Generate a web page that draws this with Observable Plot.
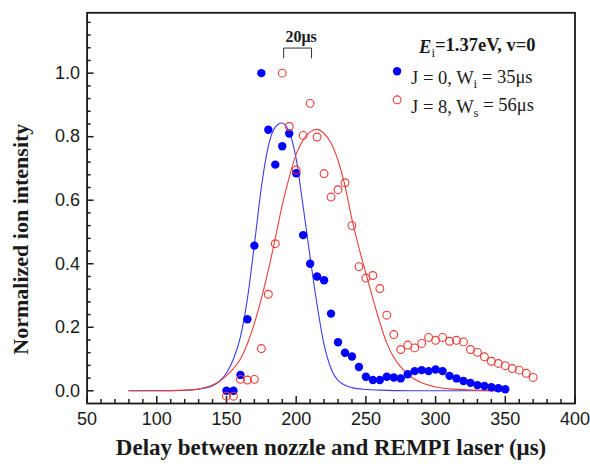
<!DOCTYPE html>
<html>
<head>
<meta charset="utf-8">
<script src="https://cdn.jsdelivr.net/npm/d3@7"></script>
<script src="https://cdn.jsdelivr.net/npm/@observablehq/plot@0.6"></script>
<style>
  html, body { margin: 0; padding: 0; background: #fff; }
</style>
</head>
<body>
<div id="chart"></div>
<script>
// ---- data ----
const j0Delay = [150,155,160,165,170,175,180,185,190,195,200,205,210,215,220,225,230,235,240,245,250,255,260,265,270,275,280,285,290,295,300,305,310,315,320,325,330,335,340,345,350];
const j0Intensity = [0.0,0.0,0.05,0.225,0.457,1.0,0.822,0.712,0.77,0.81,0.685,0.49,0.40,0.36,0.348,0.243,0.153,0.12,0.108,0.075,0.044,0.034,0.034,0.044,0.042,0.039,0.052,0.062,0.065,0.062,0.067,0.062,0.047,0.039,0.031,0.025,0.018,0.015,0.011,0.008,0.005];

const j8Delay = [150,155,160,165,170,175,180,185,190,195,200,205,210,215,220,225,230,235,240,245,250,255,260,265,270,275,280,285,290,295,300,305,310,315,320,325,330,335,340,345,350,355,360,365,370];
const j8Intensity = [-0.017,-0.017,0.036,0.034,0.036,0.133,0.304,0.463,1.0,0.832,0.695,0.804,0.905,0.799,0.684,0.61,0.633,0.655,0.52,0.391,0.355,0.363,0.322,0.238,0.177,0.13,0.144,0.135,0.149,0.168,0.159,0.168,0.156,0.159,0.154,0.13,0.121,0.107,0.093,0.086,0.079,0.07,0.065,0.055,0.042];

const j0FitDelay = [80,100,120,130,140,145,150,155,160,165,170,175,180,185,189.5,195,200,205,210,215,220,225,230,240,250,260,280,350];
const j0FitIntensity = [0,0,0.001,0.005,0.016,0.03,0.056,0.1,0.17,0.29,0.46,0.64,0.77,0.83,0.843,0.815,0.73,0.58,0.42,0.27,0.145,0.07,0.033,0.01,0.004,0.002,0,0];

const j8FitDelay = [80,100,120,130,140,145,150,155,160,165,170,175,180,185,190,195,200,205,210,214.6,220,225,230,235,240,245,250,255,260,265,270,275,280,290,300,310,330,350];
const j8FitIntensity = [0,0,0.002,0.006,0.018,0.03,0.048,0.07,0.1,0.148,0.212,0.29,0.38,0.48,0.585,0.672,0.745,0.79,0.815,0.823,0.81,0.78,0.725,0.645,0.54,0.45,0.37,0.29,0.215,0.15,0.105,0.075,0.052,0.025,0.012,0.006,0.002,0];

const xTicks = [50,100,150,200,250,300,350,400];
const xMinorTicks = [60,70,80,90,110,120,130,140,160,170,180,190,210,220,230,240,260,270,280,290,310,320,330,340,360,370,380,390];
const yTicks = [0,0.2,0.4,0.6,0.8,1.0];
const yMinorTicks = [0.04,0.08,0.12,0.16,0.24,0.28,0.32,0.36,0.44,0.48,0.52,0.56,0.64,0.68,0.72,0.76,0.84,0.88,0.92,0.96,1.04,1.08,1.12,1.16];

const scaleBarDelay = [191,191,211,211];
const scaleBarLevel = [1.048,1.079,1.079,1.048];
const scaleBarLabel = ["20μs"];
const scaleBarLabelDelay = [203.5];
const scaleBarLabelLevel = [1.115];

const legendTitle = ["E_i=1.37eV, v=0"];
const legendLabels = ["J = 0, W_i = 35μs", "J = 8, W_s = 56μs"];
const xLabel = "Delay between nozzle and REMPI laser (μs)";
const yLabel = "Normalized ion intensity";

// ---- layout ----
const W = 590, H = 473, ML = 86.6, MR = 15.5, MT = 12.3, MB = 70;
const FW = W - ML - MR, FH = H - MT - MB;
const ink = "#1a1a1a";
const blue = "#0000ff", blueLine = "#3c3ce8";
const red = "#ec3a34", redLine = "#e4403c";
const serif = "'Liberation Serif', 'Times New Roman', serif";

const j0 = j0Delay.map((d, i) => ({d, v: j0Intensity[i]}));
const j8 = j8Delay.map((d, i) => ({d, v: j8Intensity[i]}));
const j0Fit = j0FitDelay.map((d, i) => ({d, v: j0FitIntensity[i]}));
const j8Fit = j8FitDelay.map((d, i) => ({d, v: j8FitIntensity[i]}));
const bar = scaleBarDelay.map((d, i) => ({d, v: scaleBarLevel[i]}));

const legX = 310, legFont = 18.5;

const chart = Plot.plot({
  width: W, height: H,
  marginLeft: ML, marginRight: MR, marginTop: MT, marginBottom: MB,
  style: {fontFamily: "'Liberation Sans', Arial, sans-serif", fontSize: "18px", color: ink, background: "#fff", overflow: "visible"},
  x: {domain: [50, 400]},
  y: {domain: [-0.04, 1.19]},
  marks: [
    Plot.axisX({ticks: xTicks, tickSize: 0, tickPadding: 9, label: null, tickFormat: d => String(d)}),
    Plot.axisY({ticks: yTicks, tickSize: 0, tickPadding: 7, label: null, tickFormat: d3.format(".1f")}),
    Plot.tickX(xTicks, {x: d => d, insetTop: FH - 7, stroke: ink, strokeWidth: 1.5}),
    Plot.tickX(xMinorTicks, {x: d => d, insetTop: FH - 4, stroke: ink, strokeWidth: 1.5}),
    Plot.tickY(yTicks, {y: d => d, insetRight: FW - 7, stroke: ink, strokeWidth: 1.5}),
    Plot.tickY(yMinorTicks, {y: d => d, insetRight: FW - 4, stroke: ink, strokeWidth: 1.5}),
    Plot.line(j0Fit, {x: "d", y: "v", stroke: blueLine, strokeWidth: 1.1, curve: "monotone-x"}),
    Plot.line(j8Fit, {x: "d", y: "v", stroke: redLine, strokeWidth: 1.1, curve: "monotone-x"}),
    Plot.dot(j0, {x: "d", y: "v", r: 4.2, fill: blue, stroke: "none"}),
    Plot.dot(j8, {x: "d", y: "v", r: 3.9, fill: "none", stroke: red, strokeWidth: 1.1}),
    Plot.line(bar, {x: "d", y: "v", stroke: "#333", strokeWidth: 1}),
    Plot.text(scaleBarLabel, {x: scaleBarLabelDelay, y: scaleBarLabelLevel, text: d => d, fontFamily: serif, fontWeight: "bold", fontSize: 16, fill: ink}),
    // legend
    Plot.text(legendTitle, {text: d => d, frameAnchor: "top-left", dx: legX + 22, dy: 27, textAnchor: "start", fontFamily: serif, fontWeight: "bold", fontSize: legFont, fill: ink}),
    Plot.dot([legendLabels[0]], {frameAnchor: "top-left", dx: legX, dy: 58.4, r: 4.2, fill: blue, stroke: "none"}),
    Plot.dot([legendLabels[1]], {frameAnchor: "top-left", dx: legX, dy: 87, r: 3.9, fill: "none", stroke: red, strokeWidth: 1.1}),
    Plot.text([legendLabels[0]], {text: d => d, frameAnchor: "top-left", dx: legX + 14, dy: 58.4, textAnchor: "start", fontFamily: serif, fontSize: legFont, fill: ink}),
    Plot.text([legendLabels[1]], {text: d => d, frameAnchor: "top-left", dx: legX + 14, dy: 87, textAnchor: "start", fontFamily: serif, fontSize: legFont, fill: ink}),
    Plot.frame({stroke: ink, strokeWidth: 1.8}),
    // axis titles
    Plot.text([xLabel], {text: d => d, frameAnchor: "bottom", dy: 51, textAnchor: "middle", fontFamily: serif, fontWeight: "bold", fontSize: 23, fill: ink}),
    Plot.text([yLabel], {text: d => d, frameAnchor: "left", dx: -66, dy: 31, textAnchor: "middle", rotate: -90, fontFamily: serif, fontWeight: "bold", fontSize: 22, fill: ink})
  ]
});

// subscripts (X_s) and italic leading E
d3.select(chart).selectAll("text").each(function() {
  const t = this.textContent;
  if (!t || !t.includes("_") || this.querySelector("tspan")) return;
  const parts = t.split(/_(\w)/);
  const sel = d3.select(this);
  sel.text(null);
  parts.forEach((p, i) => {
    if (i % 2 === 0) {
      if (!p) return;
      if (i === 0 && p === "E") {
        sel.append("tspan").attr("font-style", "italic").text(p);
      } else {
        sel.append("tspan").attr("dy", i ? "-0.32em" : null).text(p);
      }
    } else {
      sel.append("tspan").attr("dy", "0.32em").attr("font-size", "70%").attr("font-weight", "normal").text(p);
    }
  });
});

document.getElementById("chart").appendChild(chart);
</script>
</body>
</html>
